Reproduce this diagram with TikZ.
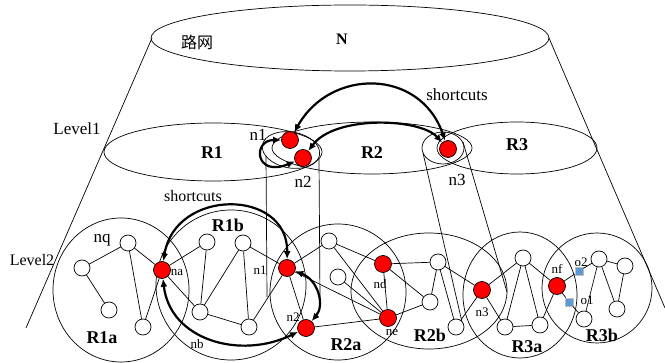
\documentclass[tikz,border=0pt]{standalone}
\usepackage{fontspec}
\setmainfont{Liberation Serif}
\newfontfamily\cjk{Noto Sans CJK SC}
\usepackage{tikz}
\usetikzlibrary{arrows.meta}
\definecolor{objblue}{RGB}{91,155,213}

\begin{document}
\begin{tikzpicture}[x=1pt, y=1pt, line width=0.7pt,
      hub/.style={circle, draw, fill=red, minimum size=17pt, inner sep=0pt},
      vtx/.style={circle, draw, fill=white, minimum size=16pt, inner sep=0pt},
      obj/.style={rectangle, draw=gray!50, fill=objblue, minimum size=8pt, inner sep=0pt},
      lbl/.style={font=\fontsize{13}{15}\selectfont, inner sep=0pt},
      big/.style={font=\fontsize{17}{20}\selectfont, inner sep=0pt},
      reg/.style={font=\fontsize{18}{21}\selectfont\bfseries, inner sep=0pt},
      cut/.style={line width=2.2pt, {Latex[length=8pt,width=7pt]}-{Latex[length=8pt,width=7pt]}}]
    \useasboundingbox (0,0) rectangle (665,-363);
    % road network and the two levels
    \draw (350,-38) ellipse [x radius=199pt, y radius=33pt];
    \draw (152,-38) -- (26,-328);
    \draw (549,-38) -- (665,-308);
    \node (roadnet) [font=\cjk\fontsize{16}{18}\selectfont] at (197,-42) {路网};
    \node (N) [font=\fontsize{16}{18}\selectfont\bfseries] at (342,-39) {N};
    \node (level1) [big] at (77,-129) {Level1};
    \node (level2) [big, font=\fontsize{16}{18}\selectfont] at (32,-260) {Level2};

    \draw (213,-152) ellipse [x radius=109pt, y radius=29pt];
    \draw (372,-148) ellipse [x radius=100pt, y radius=26pt];
    \draw (517,-148) ellipse [x radius=80pt, y radius=26pt];
    \draw [rotate around={-10:(291,-150)}] (291,-150) ellipse [x radius=29pt, y radius=18pt];
    \draw (443,-148) ellipse [x radius=21pt, y radius=16pt];
    \draw (266,-156) -- (267,-297);
    \draw (319,-159) -- (320,-300);
    \draw (423,-153) -- (462,-322);
    \draw (463,-142) -- (507,-292);

    \node (R1) [reg] at (212,-153) {R1};
    \node (R2) [reg] at (372,-153) {R2};
    \node (R3) [reg] at (517,-145) {R3};

    \node (up1) [hub] at (290,-140) {};
    \node (up2) [hub] at (303,-158) {};
    \node (up3) [hub] at (448,-149) {};
    \node (t-up1) [big] at (258,-135) {n1};
    \node (t-up2) [big] at (303,-182) {n2};
    \node (t-up3) [big] at (457,-180) {n3};
    \node (sc1) [big] at (457,-95) {shortcuts};

    \draw [cut] (up1) .. controls (330,-68) and (420,-68) .. (up3);
    \draw [cut] (up2) .. controls (335,-115) and (420,-118) .. (up3);
    \draw [cut] (up2) .. controls (255,-178) and (252,-140) .. (up1);

    % level 2 regions
    \draw (121,-290) ellipse [x radius=68pt, y radius=72pt];
    \draw (231,-285) circle [radius=75pt];
    \draw (338,-292) circle [radius=68pt];
    \draw (429,-291) ellipse [x radius=78pt, y radius=58pt];
    \draw (520,-295) ellipse [x radius=57pt, y radius=63pt];
    \draw (597,-288) circle [radius=55pt];

    \node (R1a) [reg] at (102,-338) {R1a};
    \node (R1b) [reg] at (228,-225) {R1b};
    \node (R2a) [reg] at (346,-345) {R2a};
    \node (R2b) [reg] at (430,-335) {R2b};
    \node (R3a) [reg] at (527,-347) {R3a};
    \node (R3b) [reg] at (602,-335) {R3b};

    \node (nq) [vtx] at (128,-243) {};
    \node (a2) [vtx] at (82,-268) {};
    \node (a3) [vtx] at (109,-310) {};
    \node (a4) [vtx] at (143,-327) {};
    \node (na) [hub] at (162,-270) {};
    \node (b1) [vtx] at (207,-242) {};
    \node (b2) [vtx] at (243,-243) {};
    \node (b3) [vtx] at (200,-312) {};
    \node (b4) [vtx] at (249,-327) {};
    \node (n1) [hub] at (287,-268) {};
    \node (n2) [hub] at (306,-328) {};
    \node (c1) [vtx] at (329,-241) {};
    \node (c2) [vtx] at (338,-277) {};
    \node (nd) [hub] at (383,-264) {};
    \node (ne) [hub] at (388,-318) {};
    \node (d1) [vtx] at (438,-262) {};
    \node (d2) [vtx] at (430,-302) {};
    \node (d3) [vtx] at (456,-327) {};
    \node (n3) [hub] at (482,-290) {};
    \node (e1) [vtx] at (523,-258) {};
    \node (e2) [vtx] at (505,-327) {};
    \node (e3) [vtx] at (540,-325) {};
    \node (nf) [hub] at (557,-286) {};
    \node (o2) [obj] at (579,-271) {};
    \node (o1) [obj] at (569,-302) {};
    \node (f1) [vtx] at (599,-259) {};
    \node (f2) [vtx] at (625,-266) {};
    \node (f3) [vtx] at (617,-309) {};
    \node (f4) [vtx] at (584,-319) {};

    \draw (nq) -- (a2) -- (a3) (nq) -- (a4) -- (na) -- (nq);
    \draw (na) -- (b1) -- (b3) -- (na) (b2) -- (b3) -- (b4) -- (b2) (b2) -- (n1) -- (b4);
    \draw (n1) -- (c1) -- (nd) (c1) -- (ne) (c2) -- (ne) (n1) -- (ne) (n1) -- (n2) -- (ne);
    \draw (nd) -- (d1) -- (d2) -- (nd) -- (ne) -- (d2) (d1) -- (d3) -- (n3) -- (d1);
    \draw (n3) -- (e1) -- (e2) -- (n3) (e1) -- (e3) -- (e2) (e1) -- (nf) -- (e3);
    \draw (nf) -- (o2) -- (f1) -- (f4) -- (o1) -- (nf) (f1) -- (f3) -- (f2) -- (f1);

    \node (t-nq) [big] at (102,-240) {nq};
    \node (t-na) [lbl] at (177,-273) {na};
    \node (t-nb) [lbl] at (197,-344) {nb};
    \node (t-n1) [lbl] at (260,-270) {n1};
    \node (t-n2) [lbl] at (293,-317) {n2};
    \node (t-nd) [lbl] at (380,-284) {nd};
    \node (t-ne) [lbl] at (392,-333) {ne};
    \node (t-n3) [lbl] at (482,-312) {n3};
    \node (t-nf) [lbl] at (557,-269) {nf};
    \node (t-o2) [lbl] at (581,-262) {o2};
    \node (t-o1) [lbl] at (587,-300) {o1};
    \node (sc2) [big, font=\fontsize{16}{18}\selectfont] at (193,-196) {shortcuts};

    \draw [cut] (na) .. controls (175,-188) and (288,-188) .. (n1);
    \draw [cut] (na) .. controls (170,-340) and (240,-360) .. (n2);
    \draw [cut] (n1) .. controls (318,-280) and (325,-305) .. (n2);
  \end{tikzpicture}
\end{document}
